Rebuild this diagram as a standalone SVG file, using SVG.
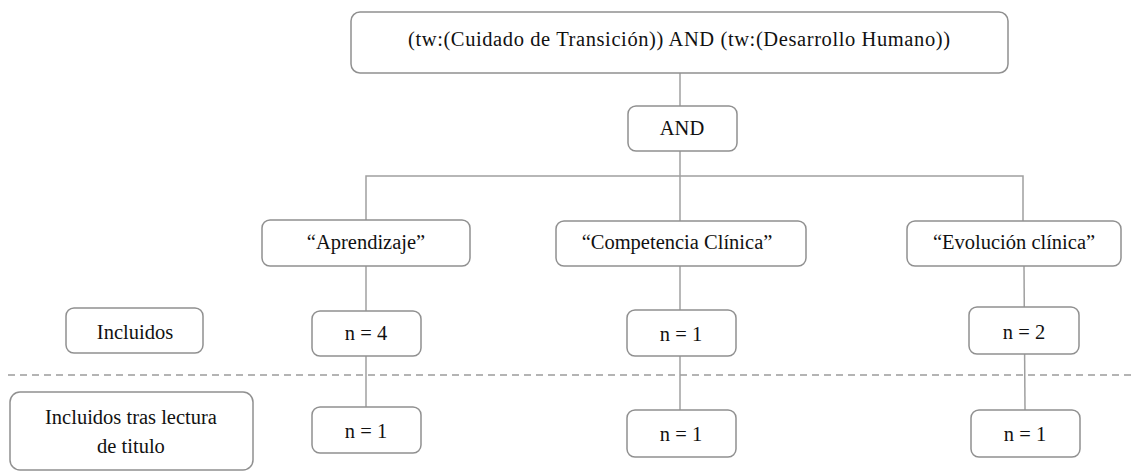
<svg xmlns="http://www.w3.org/2000/svg" width="1135" height="471" viewBox="0 0 1135 471">
<style>
.box{fill:#fff;stroke:#909090;stroke-width:1.5}
.t{font-family:"Liberation Serif","Times New Roman",serif;font-size:20.5px;fill:#111;text-anchor:middle}
.c{fill:none;stroke:#a0a0a0;stroke-width:1.5}
.d{fill:none;stroke:#b4b4b4;stroke-width:1.8;stroke-dasharray:7,5}
</style>
<rect width="1135" height="471" fill="#fff"/>
<g id="connectors">
<line class="d" x1="8" y1="375" x2="1135" y2="375"/>
<line class="c" x1="680" y1="73" x2="680" y2="107"/>
<line class="c" x1="680" y1="151" x2="680" y2="221"/>
<polyline class="c" points="366,220 366,176 1023,176 1023,221"/>
<line class="c" x1="366" y1="266" x2="366" y2="408"/>
<line class="c" x1="680" y1="266" x2="680" y2="410"/>
<line class="c" x1="1024" y1="266" x2="1025" y2="410"/>
</g>
<g id="query"><rect class="box" x="351" y="12" width="657" height="61" rx="9"/><text class="t" x="679" y="46" textLength="542" lengthAdjust="spacing">(tw:(Cuidado de Transición)) AND (tw:(Desarrollo Humano))</text></g>
<g id="and"><rect class="box" x="628" y="106" width="109" height="45" rx="8"/><text class="t" x="682" y="135">AND</text></g>
<g id="aprendizaje"><rect class="box" x="262" y="220" width="208" height="46" rx="8"/><text class="t" x="366" y="249">“Aprendizaje”</text></g>
<g id="competencia"><rect class="box" x="556" y="221" width="250" height="45" rx="8"/><text class="t" x="677" y="249">“Competencia Clínica”</text></g>
<g id="evolucion"><rect class="box" x="907" y="221" width="214" height="45" rx="8"/><text class="t" x="1014" y="249">“Evolución clínica”</text></g>
<g id="incluidos"><rect class="box" x="66" y="308" width="137" height="45" rx="8"/><text class="t" x="135" y="339">Incluidos</text></g>
<g id="n4"><rect class="box" x="312" y="311" width="109" height="45" rx="8"/><text class="t" x="366" y="340">n = 4</text></g>
<g id="n1a"><rect class="box" x="627" y="310" width="109" height="46" rx="8"/><text class="t" x="681" y="341">n = 1</text></g>
<g id="n2"><rect class="box" x="969" y="307" width="110" height="47" rx="8"/><text class="t" x="1024" y="339">n = 2</text></g>
<g id="incluidos-tras"><rect class="box" x="10" y="392" width="243" height="78" rx="10"/><text class="t" x="131" y="424">Incluidos tras lectura</text><text class="t" x="131" y="453">de titulo</text></g>
<g id="n1b"><rect class="box" x="312" y="407" width="109" height="46" rx="8"/><text class="t" x="366" y="438">n = 1</text></g>
<g id="n1c"><rect class="box" x="627" y="410" width="109" height="47" rx="8"/><text class="t" x="681" y="441">n = 1</text></g>
<g id="n1d"><rect class="box" x="971" y="410" width="109" height="47" rx="8"/><text class="t" x="1025" y="441">n = 1</text></g>
</svg>
